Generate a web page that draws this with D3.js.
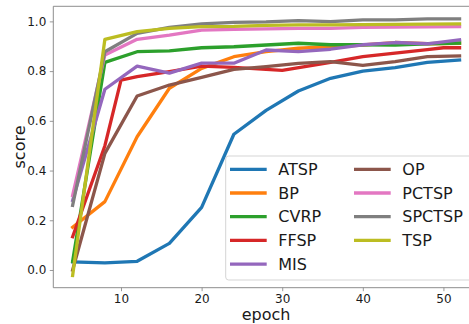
<!DOCTYPE html>
<html>
<head>
<meta charset="utf-8">
<script src="https://cdn.jsdelivr.net/npm/d3@7"></script>
<style>
  body { margin: 0; background: #fff; }
  text { font-family: "DejaVu Sans", sans-serif; fill: #1a1a1a; }
</style>
</head>
<body>
<div id="chart"></div>
<script>
// Data: [epoch, score] pairs
var ATSP = [[4,0.033],[8,0.029],[12,0.035],[16,0.107],[20,0.252],[24,0.546],[28,0.642],[32,0.72],[36,0.771],[40,0.80],[44,0.814],[48,0.835],[52,0.845]];
var BP = [[4,0.172],[8,0.275],[12,0.536],[16,0.731],[20,0.811],[24,0.858],[28,0.878],[32,0.892],[36,0.898],[40,0.905],[44,0.915],[48,0.91],[52,0.912]];
var CVRP = [[4,0.035],[8,0.835],[12,0.878],[16,0.881],[20,0.894],[24,0.898],[28,0.905],[32,0.912],[36,0.906],[40,0.906],[44,0.905],[48,0.91],[52,0.913]];
var FFSP = [[4,0.134],[8,0.50],[10,0.764],[12,0.778],[16,0.798],[20,0.82],[24,0.815],[30,0.803],[36,0.835],[40,0.858],[44,0.872],[48,0.886],[50,0.894],[52,0.894]];
var MIS = [[4,0.28],[8,0.727],[12,0.82],[16,0.792],[20,0.832],[24,0.832],[28,0.885],[32,0.878],[36,0.888],[40,0.906],[44,0.915],[48,0.91],[52,0.926]];
var OP = [[4,0.0],[8,0.469],[12,0.70],[16,0.744],[20,0.775],[24,0.807],[28,0.818],[32,0.831],[36,0.838],[40,0.823],[44,0.838],[48,0.858],[52,0.861]];
var PCTSP = [[4,0.30],[8,0.865],[12,0.928],[16,0.945],[20,0.965],[24,0.968],[28,0.97],[32,0.972],[36,0.972],[40,0.976],[44,0.977],[48,0.978],[52,0.979]];
var SPCTSP = [[4,0.26],[8,0.878],[12,0.952],[16,0.976],[20,0.99],[24,0.996],[28,0.998],[32,1.003],[36,0.999],[40,1.006],[44,1.006],[48,1.01],[52,1.01]];
var TSP = [[4,-0.022],[8,0.928],[12,0.959],[16,0.972],[20,0.979],[24,0.98],[28,0.984],[32,0.986],[36,0.986],[40,0.987],[44,0.988],[48,0.989],[52,0.99]];

var names = ["ATSP","BP","CVRP","FFSP","MIS","OP","PCTSP","SPCTSP","TSP"];
var seriesValues = [ATSP, BP, CVRP, FFSP, MIS, OP, PCTSP, SPCTSP, TSP];
var colors = ["#1f77b4","#ff7f0e","#2ca02c","#d62728","#9467bd","#8c564b","#e377c2","#7f7f7f","#bcbd22"];
var xTicks = [10, 20, 30, 40, 50];
var yTicks = [0.0, 0.2, 0.4, 0.6, 0.8, 1.0];

var svgWidth = 469;
var svgHeight = 324;

var margin = { top: 6.3, left: 53.3 };
var width = 425.6;   // right side runs past the window, like the original
var height = 281.4;

var svg = d3.select("#chart")
    .append("svg")
    .attr("width", svgWidth)
    .attr("height", svgHeight);

var chartGroup = svg.append("g")
    .attr("transform", `translate(${margin.left},${margin.top})`);

// scales
var xScale = d3.scaleLinear()
    .domain([1.6, 54.4])
    .range([0, width]);

var yScale = d3.scaleLinear()
    .domain([-0.0712, 1.0607])
    .range([height, 0]);

// axes
var bottomAxis = d3.axisBottom(xScale)
    .tickValues(xTicks)
    .tickSize(3.5)
    .tickPadding(3.5)
    .tickFormat(d3.format("d"));

var leftAxis = d3.axisLeft(yScale)
    .tickValues(yTicks)
    .tickSize(3.5)
    .tickPadding(3.5)
    .tickFormat(d3.format(".1f"));

var xAxis = chartGroup.append("g")
    .attr("transform", `translate(0,${height})`)
    .call(bottomAxis);

var yAxis = chartGroup.append("g")
    .call(leftAxis);

[xAxis, yAxis].forEach(function(ax) {
    ax.select(".domain").remove();
    ax.selectAll("line").attr("stroke", "#808080").attr("stroke-width", 0.8);
    ax.selectAll("text").attr("font-size", "12px").style("font-family", "DejaVu Sans, sans-serif").attr("fill", "#1a1a1a");
});

// spines (top / left / bottom)
var spine = chartGroup.append("g")
    .attr("fill", "none")
    .attr("stroke", "#808080")
    .attr("stroke-width", 0.9);
spine.append("line").attr("x1", 0).attr("x2", 0).attr("y1", 0).attr("y2", height);
spine.append("line").attr("x1", 0).attr("x2", width).attr("y1", height).attr("y2", height);
spine.append("line").attr("x1", 0).attr("x2", width).attr("y1", 0).attr("y2", 0);

// lines
var line = d3.line()
    .x(d => xScale(d[0]))
    .y(d => yScale(d[1]));

chartGroup.selectAll(".series")
    .data(seriesValues)
    .enter()
    .append("path")
    .attr("class", "series")
    .attr("d", line)
    .attr("fill", "none")
    .attr("stroke", (d, i) => colors[i])
    .attr("stroke-width", 3.3)
    .attr("stroke-linejoin", "round")
    .attr("stroke-linecap", "square");

// axis labels
svg.append("text")
    .attr("x", 266)
    .attr("y", 320)
    .attr("text-anchor", "middle")
    .attr("font-size", "16px")
    .text("epoch");

svg.append("text")
    .attr("transform", "translate(25,147) rotate(-90)")
    .attr("text-anchor", "middle")
    .attr("font-size", "16px")
    .text("score");

// legend
var legend = svg.append("g");

legend.append("rect")
    .attr("x", 225.7)
    .attr("y", 156)
    .attr("width", 260)
    .attr("height", 124)
    .attr("rx", 3)
    .attr("fill", "#fff")
    .attr("fill-opacity", 0.8)
    .attr("stroke", "#d0d0d0")
    .attr("stroke-width", 0.9);

var rowY = [169.3, 193, 216.7, 240.4, 264.1];
var colX = [230, 354];

names.forEach(function(name, i) {
    var col = i < 5 ? 0 : 1;
    var row = i < 5 ? i : i - 5;
    var g = legend.append("g")
        .attr("transform", `translate(${colX[col]},${rowY[row]})`);
    g.append("line")
        .attr("x1", 0)
        .attr("x2", 36.7)
        .attr("stroke", colors[i])
        .attr("stroke-width", 3.3);
    g.append("text")
        .attr("x", 48.3)
        .attr("dy", "0.36em")
        .attr("font-size", "16px")
        .text(name);
});
</script>
</body>
</html>
